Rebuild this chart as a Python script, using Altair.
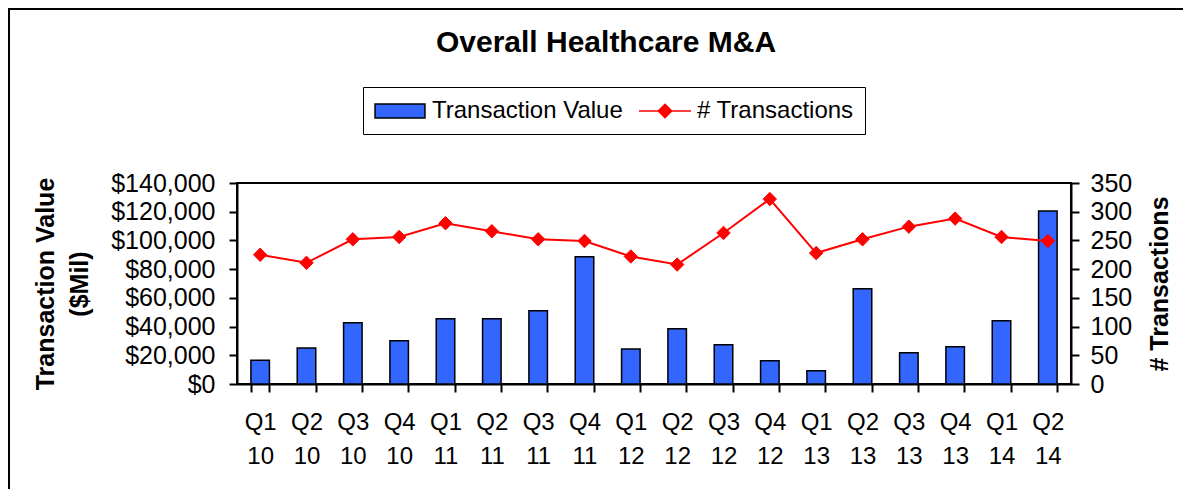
import altair as alt
import pandas as pd

quarters = ["Q1 10", "Q2 10", "Q3 10", "Q4 10", "Q1 11", "Q2 11", "Q3 11", "Q4 11",
            "Q1 12", "Q2 12", "Q3 12", "Q4 12", "Q1 13", "Q2 13", "Q3 13", "Q4 13",
            "Q1 14", "Q2 14"]
transaction_value = [16500, 25000, 42700, 30200, 45500, 45500, 51000, 88700,
                     24400, 38500, 27400, 16200, 9300, 66400, 21800, 26000,
                     44100, 120500]
num_transactions = [225, 211, 252, 256, 280, 266, 252, 249,
                    222, 208, 263, 322, 228, 252, 274, 288, 256, 249]
left_ticks = [0, 20000, 40000, 60000, 80000, 100000, 120000, 140000]
right_ticks = [0, 50, 100, 150, 200, 250, 300, 350]
series_names = ["Transaction Value", "# Transactions"]
fill_colors = ["#3366FF", "#FF0000"]
stroke_colors = ["black", "#FF0000"]
legend_shapes = ["M-2.08,-0.58H2.08V0.58H-2.08Z",
                 "M-2.17,0H2.17M0,-0.56L0.56,0L0,0.56L-0.56,0Z"]

FONT = "Liberation Sans"

bars_df = pd.DataFrame({"quarter": quarters, "value": transaction_value,
                        "series": series_names[0]})
line_df = pd.DataFrame({"quarter": quarters, "count": num_transactions,
                        "series": series_names[1]})

x_enc = alt.X(
    "quarter:N", sort=quarters, title=None,
    scale=alt.Scale(paddingInner=0.6, paddingOuter=0.3),
    axis=alt.Axis(labelAngle=0,
                  labelExpr="datum.value ? split(datum.value, ' ') : ''",
                  labelFontSize=24, labelLineHeight=34, labelPadding=18,
                  tickBand="extent", tickSize=8, tickWidth=2, domainWidth=2,
                  tickColor="black", domainColor="black", labelColor="black",
                  labelFont=FONT),
)

legend = alt.Legend(
    title=None, orient="none", legendX=126, legendY=-96, direction="horizontal",
    fillColor="white", strokeColor="black", padding=11,
    symbolSize=576, symbolOffset=13, labelOffset=19, columnPadding=12,
    symbolStrokeWidth=1.5, symbolOpacity=1, labelLimit=400,
    labelFontSize=24, labelFont=FONT, labelColor="black",
)

fill_enc = alt.Fill("series:N", scale=alt.Scale(domain=series_names, range=fill_colors),
                    legend=legend)
stroke_enc = alt.Stroke("series:N", scale=alt.Scale(domain=series_names, range=stroke_colors),
                        legend=legend)
shape_enc = alt.Shape("series:N", scale=alt.Scale(domain=series_names, range=legend_shapes),
                      legend=legend)

left_y = alt.Y("value:Q",
               scale=alt.Scale(domain=[0, 140000], nice=False),
               axis=alt.Axis(values=left_ticks, format="$,.0f", orient="left",
                             title=["Transaction Value", "($Mil)"],
                             titleFontSize=25, titleFont=FONT, titleFontWeight="bold",
                             titleLineHeight=34, titlePadding=18, titleColor="black",
                             labelFontSize=25, labelFont=FONT, labelColor="black",
                             labelPadding=14, tickSize=8, tickWidth=2, domainWidth=2,
                             tickColor="black", domainColor="black", grid=False))

right_y = alt.Y("count:Q",
                scale=alt.Scale(domain=[0, 350], nice=False),
                axis=alt.Axis(values=right_ticks, orient="right",
                              title="# Transactions", titleAngle=270,
                              titleFontSize=25, titleFont=FONT, titleFontWeight="bold",
                              titlePadding=41, titleColor="black",
                              labelFontSize=25, labelFont=FONT, labelColor="black",
                              labelPadding=11, tickSize=8, tickWidth=2, domainWidth=2,
                              tickColor="black", domainColor="black", grid=False))

bars = alt.Chart(bars_df).mark_bar(strokeWidth=1.5, opacity=1).encode(
    x=x_enc, y=left_y, fill=fill_enc, stroke=stroke_enc,
)

line = alt.Chart(line_df).mark_line(strokeWidth=2).encode(
    x=x_enc, y=right_y, stroke=stroke_enc,
)

points = alt.Chart(line_df).mark_point(shape="diamond", size=180, filled=True,
                                       opacity=1, strokeWidth=1).encode(
    x=x_enc, y=right_y, fill=fill_enc, stroke=stroke_enc,
)

# legend-only layer: carries the shape scale, draws nothing
legend_keys = alt.Chart(line_df).mark_point(filled=True).encode(
    x=x_enc, y=right_y, shape=shape_enc, fill=fill_enc, stroke=stroke_enc,
).transform_filter("false")

frame = alt.Chart(alt.Data(values=[{"k": 1}])).mark_rect(
    fillOpacity=0, stroke="black", strokeWidth=2
).encode(
    x=alt.value(-228), x2=alt.value(1100), y=alt.value(-174), y2=alt.value(400)
)

right_layer = alt.layer(line, points, legend_keys)

chart = alt.layer(frame, bars, right_layer).resolve_scale(y="independent").properties(
    width=834, height=201,
    autosize=alt.AutoSizeParams(type="none"),
    padding={"left": 229, "top": 175, "right": 112, "bottom": 105},
    title=alt.TitleParams("Overall Healthcare M&A", fontSize=30, font=FONT,
                          fontWeight="bold", anchor="middle", baseline="alphabetic",
                          offset=0, dy=74, dx=-48, color="black"),
).configure(background="white").configure_view(stroke="black", strokeWidth=2)

chart.save("out.html", embed_options={"renderer": "svg", "actions": False})
